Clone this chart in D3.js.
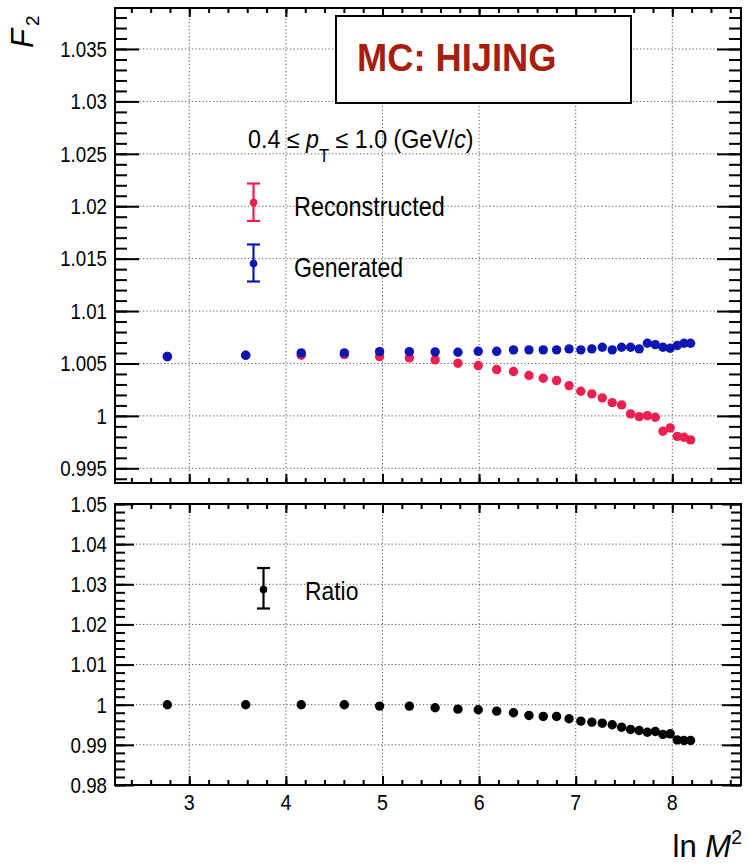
<!DOCTYPE html>
<html>
<head>
<meta charset="utf-8">
<script src="https://cdn.jsdelivr.net/npm/d3@7"></script>
<style>
  html, body { margin: 0; padding: 0; background: #fff; }
  svg { display: block; font-family: "Liberation Sans", Arial, Helvetica, sans-serif; }
</style>
</head>
<body>
<div id="chart"></div>
<script>
// ---- data ----
const lnM2 = [2.773, 3.584, 4.159, 4.605, 4.970, 5.278, 5.545, 5.781, 5.991, 6.182,
              6.356, 6.516, 6.664, 6.802, 6.931, 7.053, 7.167, 7.275, 7.378, 7.475,
              7.568, 7.657, 7.742, 7.824, 7.903, 7.978, 8.051, 8.121, 8.189];
const generated = [1.00566, 1.00578, 1.00601, 1.00601, 1.00613, 1.00613, 1.00610, 1.00607, 1.00616, 1.00616,
                   1.00630, 1.00630, 1.00630, 1.00630, 1.00639, 1.00630, 1.00639, 1.00655, 1.00630, 1.00655,
                   1.00655, 1.00639, 1.00693, 1.00680, 1.00655, 1.00645, 1.00671, 1.00693, 1.00693];
const reconstructed = [1.00566, 1.00578, 1.00578, 1.00585, 1.00566, 1.00553, 1.00534, 1.00502, 1.00480, 1.00442,
                       1.00423, 1.00385, 1.00359, 1.00337, 1.00289, 1.00235, 1.00210, 1.00172, 1.00127, 1.00105,
                       1.00019, 0.99993, 1.00003, 0.99987, 0.99853, 0.99885, 0.99805, 0.99796, 0.99771];
const ratio = [1.0000, 1.0000, 1.0000, 1.0000, 0.99966, 0.99966, 0.99925, 0.99890, 0.99875, 0.99840,
               0.99800, 0.99733, 0.99708, 0.99708, 0.99650, 0.99590, 0.99565, 0.99540, 0.99500, 0.99440,
               0.99383, 0.99358, 0.99315, 0.99333, 0.99258, 0.99275, 0.99125, 0.99108, 0.99108];

const xTicks = [3, 4, 5, 6, 7, 8];
const xTickLabels = ["3", "4", "5", "6", "7", "8"];
const topYTicks = [0.995, 1.0, 1.005, 1.01, 1.015, 1.02, 1.025, 1.03, 1.035];
const topYTickLabels = ["0.995", "1", "1.005", "1.01", "1.015", "1.02", "1.025", "1.03", "1.035"];
const botYTicks = [0.98, 0.99, 1.0, 1.01, 1.02, 1.03, 1.04, 1.05];
const botYTickLabels = ["0.98", "0.99", "1", "1.01", "1.02", "1.03", "1.04", "1.05"];

const legendTop = ["Reconstructed", "Generated"];
const legendBot = ["Ratio"];

// ---- layout ----
const W = 750, H = 865;
const L = 115, R = 741;
const topT = 8, topB = 483;
const botT = 504, botB = 785;
const RED = "#ec1f50", BLUE = "#0c16b2", BLACK = "#000";
const MR = 4.7;

const svg = d3.select("#chart").append("svg").attr("width", W).attr("height", H);

const x = d3.scaleLinear().domain([2.231, 8.711]).range([L, R]);
const yTop = d3.scaleLinear().domain([0.993598, 1.038911]).range([topB, topT]);
const yBot = d3.scaleLinear().domain([0.98, 1.05]).range([botB, botT]);

function stext(g, px, py, str, size, sx, anchor, extra) {
  const t = g.append("text")
    .attr("transform", `translate(${px},${py}) scale(${sx},1)`)
    .attr("font-size", size)
    .attr("text-anchor", anchor || "start")
    .attr("fill", "#000")
    .text(str);
  if (extra) extra(t);
  return t;
}

function minorTicks(domain, step) {
  const out = [];
  const s = Math.ceil(domain[0] / step - 1e-9);
  const e = Math.floor(domain[1] / step + 1e-9);
  for (let i = s; i <= e; i++) out.push(+(i * step).toFixed(6));
  return out;
}

function panel(y, top, bottom, yTicks, yLabels, yMinorStep, yMaj, yMin) {
  const g = svg.append("g");
  const dom = y.domain();
  // grid
  const grid = g.append("g").attr("stroke", "#555").attr("stroke-width", 1).attr("stroke-dasharray", "1.2,2.3");
  grid.selectAll("line.gx").data(xTicks).join("line")
    .attr("x1", d => x(d)).attr("x2", d => x(d)).attr("y1", top).attr("y2", bottom);
  grid.selectAll("line.gy").data(yTicks.filter(v => y(v) > top + 2 && y(v) < bottom - 2)).join("line")
    .attr("x1", L).attr("x2", R).attr("y1", d => y(d)).attr("y2", d => y(d));

  // axes via d3 (ticks inward, labels drawn separately)
  const xMinor = minorTicks(x.domain(), 0.2);
  const yMinor = minorTicks(dom, yMinorStep);
  const style = s => s.call(a => a.select(".domain").remove())
                      .call(a => a.selectAll("text").remove())
                      .call(a => a.selectAll("line").attr("stroke", "#000").attr("stroke-width", 2));
  g.append("g").attr("transform", `translate(0,${bottom})`)
    .call(d3.axisBottom(x).tickValues(xMinor).tickSize(-5)).call(style);
  g.append("g").attr("transform", `translate(0,${bottom})`)
    .call(d3.axisBottom(x).tickValues(xTicks).tickSize(-9)).call(style);
  g.append("g").attr("transform", `translate(0,${top})`)
    .call(d3.axisTop(x).tickValues(xMinor).tickSize(-5)).call(style);
  g.append("g").attr("transform", `translate(0,${top})`)
    .call(d3.axisTop(x).tickValues(xTicks).tickSize(-9)).call(style);
  g.append("g").attr("transform", `translate(${L},0)`)
    .call(d3.axisLeft(y).tickValues(yMinor).tickSize(-yMin)).call(style);
  g.append("g").attr("transform", `translate(${L},0)`)
    .call(d3.axisLeft(y).tickValues(yTicks).tickSize(-yMaj)).call(style);
  g.append("g").attr("transform", `translate(${R},0)`)
    .call(d3.axisRight(y).tickValues(yMinor).tickSize(-yMin)).call(style);
  g.append("g").attr("transform", `translate(${R},0)`)
    .call(d3.axisRight(y).tickValues(yTicks).tickSize(-yMaj)).call(style);

  // frame
  g.append("rect").attr("x", L).attr("y", top).attr("width", R - L).attr("height", bottom - top)
    .attr("fill", "none").attr("stroke", "#000").attr("stroke-width", 2);

  // y labels
  yTicks.forEach((v, i) => {
    stext(g, 107, y(v) + 7.8, yLabels[i], 21.5, 0.87, "end");
  });
  return g;
}

const gTop = panel(yTop, topT, topB, topYTicks, topYTickLabels, 0.001, 24, 12);
const gBot = panel(yBot, botT, botB, botYTicks, botYTickLabels, 0.002, 19, 10);

// x labels
xTicks.forEach((v, i) => stext(svg, x(v), 810, xTickLabels[i], 22.5, 0.87, "middle"));

// data: top panel (red first, blue on top)
gTop.append("g").selectAll("circle").data(lnM2).join("circle")
  .attr("cx", (d) => x(d)).attr("cy", (d, i) => yTop(reconstructed[i])).attr("r", MR).attr("fill", RED);
gTop.append("g").selectAll("circle").data(lnM2).join("circle")
  .attr("cx", (d) => x(d)).attr("cy", (d, i) => yTop(generated[i])).attr("r", MR).attr("fill", BLUE);

// data: bottom panel
gBot.append("g").selectAll("circle").data(lnM2).join("circle")
  .attr("cx", (d) => x(d)).attr("cy", (d, i) => yBot(ratio[i])).attr("r", MR).attr("fill", BLACK);

// MC: HIJING box
svg.append("rect").attr("x", 336).attr("y", 16).attr("width", 295).attr("height", 87)
  .attr("fill", "#fff").attr("stroke", "#000").attr("stroke-width", 2);
stext(svg, 357, 70.5, "MC: HIJING", 38, 0.955, "start", t => t.attr("font-weight", "bold").attr("fill", "#a81d0c"));

// kinematic text
const kt = svg.append("text")
  .attr("transform", "translate(248,148) scale(0.93,1)")
  .attr("font-size", 25).attr("fill", "#000");
kt.append("tspan").text("0.4 \u2264 ");
kt.append("tspan").attr("font-style", "italic").text("p");
kt.append("tspan").attr("font-size", 18).attr("dy", 14).text("T");
kt.append("tspan").attr("dy", -14).text(" \u2264 1.0 (GeV/");
kt.append("tspan").attr("font-style", "italic").text("c");
kt.append("tspan").text(")");

// legend markers with error bars
function legMarker(g, cx, cy, y1, y2, color) {
  const lg = g.append("g").attr("stroke", color).attr("stroke-width", 2.2);
  lg.append("line").attr("x1", cx).attr("x2", cx).attr("y1", y1).attr("y2", y2);
  lg.append("line").attr("x1", cx - 6.5).attr("x2", cx + 6.5).attr("y1", y1).attr("y2", y1);
  lg.append("line").attr("x1", cx - 6.5).attr("x2", cx + 6.5).attr("y1", y2).attr("y2", y2);
  g.append("circle").attr("cx", cx).attr("cy", cy).attr("r", 3.8).attr("fill", color);
}
legMarker(svg, 253.5, 202.5, 183.5, 221, RED);
legMarker(svg, 253.5, 263.5, 244.5, 281.5, BLUE);
stext(svg, 294, 215.5, legendTop[0], 27, 0.867, "start");
stext(svg, 294, 276.5, legendTop[1], 27, 0.855, "start");

legMarker(svg, 263.5, 589.5, 568, 608.5, BLACK);
stext(svg, 305, 600, legendBot[0], 26, 0.88, "start");

// axis titles
const fy = svg.append("text").attr("transform", "translate(33,48) rotate(-90)")
  .attr("font-size", 31).attr("fill", "#000");
fy.append("tspan").attr("font-style", "italic").text("F");
fy.append("tspan").attr("font-size", 19).attr("dx", 3).attr("dy", 6).text("2");

const fx = svg.append("text").attr("transform", "translate(742,856.5) scale(0.97,1)")
  .attr("font-size", 32).attr("text-anchor", "end").attr("fill", "#000");
fx.append("tspan").text("ln ");
fx.append("tspan").attr("font-style", "italic").text("M");
fx.append("tspan").attr("font-size", 20).attr("dy", -13).text("2");
</script>
</body>
</html>
